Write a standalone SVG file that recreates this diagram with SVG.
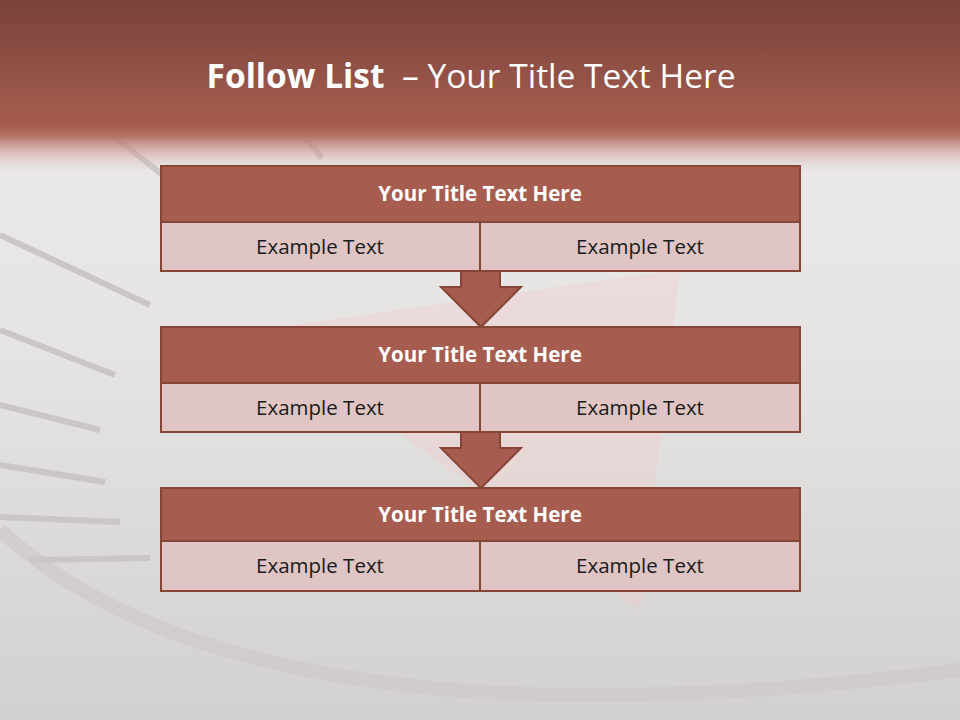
<svg xmlns="http://www.w3.org/2000/svg" width="960" height="720" viewBox="0 0 960 720">
<defs>
<linearGradient id="bg" x1="0" y1="0" x2="0" y2="1">
<stop offset="0" stop-color="#EEEBEB"/><stop offset="0.5" stop-color="#E6E3E3"/><stop offset="1" stop-color="#D3D0D0"/>
</linearGradient>
<linearGradient id="hdr" x1="0" y1="0" x2="0" y2="1">
<stop offset="0" stop-color="#79423A"/><stop offset="0.72" stop-color="#A65D50"/><stop offset="0.78" stop-color="#B87468"/><stop offset="1" stop-color="#E6DCDB" stop-opacity="0"/>
</linearGradient>
<style>
.tb{fill:#A65C4E;stroke:#874538;stroke-width:2}
.rw{fill:#DFC5C4;stroke:#874538;stroke-width:2}
.ar{fill:#A65C4E;stroke:#874538;stroke-width:2;stroke-linejoin:miter}
.tt{font-family:"Open Sans",sans-serif;font-weight:bold;font-size:20.5px;fill:#FFFFFF;text-anchor:middle}
.et{font-family:"Open Sans",sans-serif;font-size:20.5px;fill:#1A1A1A;text-anchor:middle}
.tk{stroke:#C9C6C5;stroke-width:6;stroke-linecap:butt}
</style>
</defs>
<g id="background">
<rect width="960" height="720" fill="url(#bg)"/>
<path d="M0 530 Q250 760 960 670" fill="none" stroke="#CFCBCA" stroke-width="14" opacity="0.8"/>
<path d="M260 330 L640 275 L680 270 L640 610 Z" fill="#F0C8C8" opacity="0.35"/>
<line class="tk" x1="100" y1="125" x2="200" y2="205"/>
<line class="tk" x1="295" y1="125" x2="322" y2="158"/>
<line class="tk" x1="0" y1="235" x2="150" y2="305"/>
<line class="tk" x1="0" y1="330" x2="115" y2="375"/>
<line class="tk" x1="0" y1="405" x2="100" y2="430"/>
<line class="tk" x1="0" y1="465" x2="105" y2="482"/>
<line class="tk" x1="0" y1="517" x2="120" y2="522"/>
<line class="tk" x1="30" y1="560" x2="150" y2="558"/>
<rect width="960" height="175" fill="url(#hdr)"/>
</g>
<g id="title">
<text x="471" y="88" font-family="Open Sans, sans-serif" font-size="33.5" fill="#FFFFFF" text-anchor="middle"><tspan font-weight="bold">Follow List</tspan><tspan>&#160; – Your Title Text Here</tspan></text>
</g>
<g id="connectors">
<path class="ar" d="M461 271 L500 271 L500 287 L521 287 L481 327 L441 287 L461 287 Z"/>
<path class="ar" d="M461 432 L500 432 L500 448 L521 448 L481 488 L441 448 L461 448 Z"/>
</g>
<g id="node1">
<rect class="tb" x="161" y="166" width="639" height="56"/>
<rect class="rw" x="161" y="222" width="319" height="49"/>
<rect class="rw" x="480" y="222" width="320" height="49"/>
<text class="tt" x="480" y="201">Your Title Text Here</text>
<text class="et" x="320" y="254">Example Text</text>
<text class="et" x="640" y="254">Example Text</text>
</g>
<g id="node2">
<rect class="tb" x="161" y="327" width="639" height="56"/>
<rect class="rw" x="161" y="383" width="319" height="49"/>
<rect class="rw" x="480" y="383" width="320" height="49"/>
<text class="tt" x="480" y="362">Your Title Text Here</text>
<text class="et" x="320" y="415">Example Text</text>
<text class="et" x="640" y="415">Example Text</text>
</g>
<g id="node3">
<rect class="tb" x="161" y="488" width="639" height="53"/>
<rect class="rw" x="161" y="541" width="319" height="50"/>
<rect class="rw" x="480" y="541" width="320" height="50"/>
<text class="tt" x="480" y="522">Your Title Text Here</text>
<text class="et" x="320" y="573">Example Text</text>
<text class="et" x="640" y="573">Example Text</text>
</g>
</svg>
